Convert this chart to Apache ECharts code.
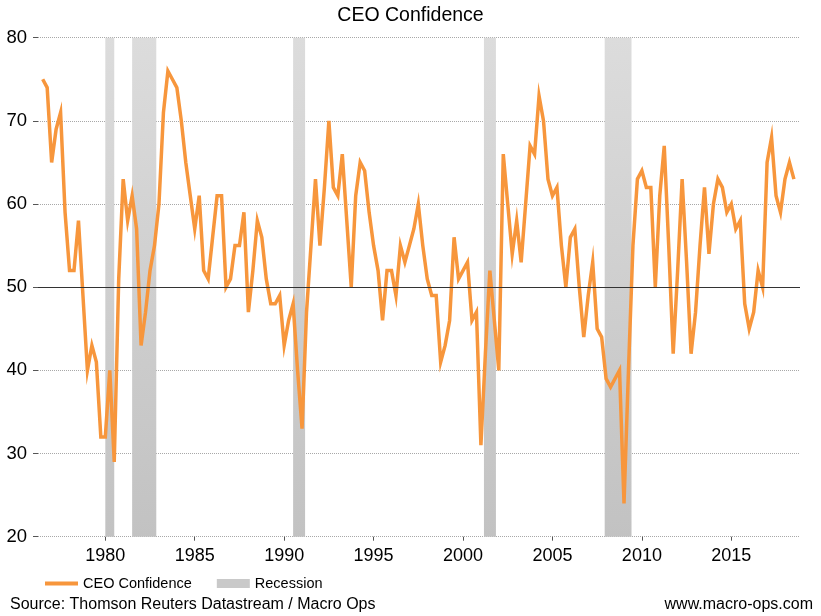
<!DOCTYPE html>
<html>
<head>
<meta charset="utf-8">
<style>
  html, body { margin: 0; padding: 0; background: #fff; }
  #chart { width: 821px; height: 616px; }
</style>
<script src="https://cdn.jsdelivr.net/npm/echarts@6/dist/echarts.min.js"></script>
</head>
<body>
<div id="chart"></div>
<script>
// Quarterly CEO Confidence, first observation 1976 Q2 (plotted at 1976.5), one value per quarter
const firstQuarter = 1976.5;
const quarterStep = 0.25;
const ceoConfidence = [
  75, 74, 65, 69, 71, 59, 52, 52, 58, 49,
  40, 43, 41, 32, 32, 40, 29, 51, 63, 58,
  61, 57, 43, 47, 52, 55, 60, 71, 76, 75,
  74, 70, 65, 61, 57, 61, 52, 51, 56, 61,
  61, 50, 51, 55, 55, 59, 47, 52, 58, 56,
  51, 48, 48, 49, 43, 46, 48, 40, 33, 47,
  55, 63, 55, 62, 70, 62, 61, 66, 58, 50,
  61, 65, 64, 59, 55, 52, 46, 52, 52, 49,
  55, 53, 55, 57, 60, 55, 51, 49, 49, 41,
  43, 46, 56, 51, 52, 53, 46, 47, 31, 42,
  52, 46, 40, 66, 60, 54, 58, 53, 60, 67,
  66, 73, 70, 63, 61, 62, 55, 50, 56, 57,
  50, 44, 49, 53, 45, 44, 39, 38, 39, 40,
  24, 40, 55, 63, 64, 62, 62, 50, 61, 67,
  55, 42, 52, 63, 53, 42, 47, 55, 62, 54,
  60, 63, 62, 59, 60, 57, 58, 48, 45, 47,
  52, 50, 65, 68, 61, 59, 63, 65, 63
];
// NBER recessions (decimal years)
const recessionStart = [1980.0, 1981.5, 1990.5, 2001.17, 2007.92];
const recessionEnd   = [1980.5, 1982.85, 1991.17, 2001.84, 2009.42];
const xTickYears = [1980, 1985, 1990, 1995, 2000, 2005, 2010, 2015];
const neutralLevel = 50;

const lineData = ceoConfidence.map((v, i) => [firstQuarter + i * quarterStep, v]);
const areas = recessionStart.map((s, i) => [{ xAxis: s }, { xAxis: recessionEnd[i] }]);

const chart = echarts.init(document.getElementById('chart'), null, { renderer: 'canvas' });
const FONT = 'Liberation Sans, Arial, Helvetica, sans-serif';
const ORANGE = '#F7963C';

chart.setOption({
  animation: false,
  backgroundColor: '#ffffff',
  textStyle: { fontFamily: FONT },
  title: {
    text: 'CEO Confidence',
    left: 'center',
    top: 1,
    textStyle: { fontFamily: FONT, fontSize: 19.5, fontWeight: 'normal', color: '#000' }
  },
  legend: {
    left: 40,
    top: 571,
    itemWidth: 33,
    itemHeight: 9,
    itemGap: 25,
    textStyle: { fontFamily: FONT, fontSize: 14.5, color: '#000' },
    data: [
      { name: 'CEO Confidence', icon: 'path://M0,0 L33,0 L33,4 L0,4 Z', itemStyle: { color: ORANGE } },
      { name: 'Recession', icon: 'rect', itemStyle: { color: '#c9c9c9' } }
    ]
  },
  grid: { left: 38, right: 21, top: 37.7, bottom: 79.3, containLabel: false },
  xAxis: {
    type: 'value',
    min: 1976.237,
    max: 2018.84,
    axisLine: { show: false },
    splitLine: { show: false },
    axisTick: {
      show: true,
      length: 4,
      customValues: xTickYears,
      lineStyle: { color: '#555', width: 1 }
    },
    axisLabel: {
      customValues: xTickYears,
      margin: 10,
      fontFamily: FONT,
      fontSize: 18,
      color: '#000',
      formatter: v => String(v)
    }
  },
  yAxis: {
    type: 'value',
    min: 20,
    max: 80,
    interval: 10,
    axisLine: { show: false },
    axisTick: { show: true, length: 5, lineStyle: { color: '#555', width: 1 } },
    axisLabel: { margin: 11, fontFamily: FONT, fontSize: 18.5, color: '#000' },
    splitLine: { show: true, lineStyle: { type: 'dotted', color: '#a8a8a8', width: 1 } }
  },
  series: [
    {
      name: 'Recession',
      type: 'line',
      data: [],
      silent: true,
      z: 1,
      markArea: {
        silent: true,
        itemStyle: {
          color: {
            type: 'linear', x: 0, y: 0, x2: 0, y2: 1,
            colorStops: [
              { offset: 0, color: '#dcdcdc' },
              { offset: 1, color: '#c2c2c2' }
            ]
          }
        },
        data: areas
      }
    },
    {
      name: 'CEO Confidence',
      type: 'line',
      data: lineData,
      showSymbol: false,
      symbol: 'none',
      z: 3,
      lineStyle: { color: ORANGE, width: 3.5, join: 'miter' },
      itemStyle: { color: ORANGE },
      markLine: {
        silent: true,
        symbol: 'none',
        label: { show: false },
        lineStyle: { color: '#333', type: 'solid', width: 1 },
        data: [{ yAxis: neutralLevel }]
      }
    }
  ],
  graphic: [
    {
      type: 'text',
      left: 10,
      top: 597,
      style: { text: 'Source: Thomson Reuters Datastream / Macro Ops', fontFamily: FONT, fontSize: 16, fill: '#000' }
    },
    {
      type: 'text',
      right: 8,
      top: 597,
      style: { text: 'www.macro-ops.com', fontFamily: FONT, fontSize: 16, fill: '#000' }
    }
  ]
});
</script>
</body>
</html>
